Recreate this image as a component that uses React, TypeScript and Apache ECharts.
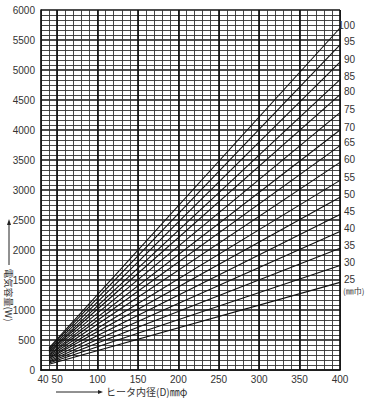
import React, { useEffect, useRef } from "react";
import * as echarts from "echarts";

const xLabels = [40, 50, 100, 150, 200, 250, 300, 350, 400];
const majorX = [50, 100, 150, 200, 250, 300, 350, 400];
const widths = [25, 30, 35, 40, 45, 50, 55, 60, 65, 70, 75, 80, 85, 90, 95, 100];
const startW = [95, 115, 135, 150, 170, 190, 205, 225, 245, 260, 280, 300, 315, 335, 355, 370];
const endW = [1460, 1740, 2030, 2310, 2590, 2880, 3160, 3460, 3740, 4000, 4290, 4590, 4840, 5130, 5420, 5700];
const xStart = 40;
const xEnd = 400;

const NARROW = "'Liberation Sans Narrow', 'Arial Narrow', 'Liberation Sans', sans-serif";
const JP = "'Noto Sans CJK JP', sans-serif";

export default function App() {
  const ref = useRef<HTMLDivElement>(null);
  useEffect(() => {
    if (!ref.current) return;
    const chart = echarts.init(ref.current, undefined, { renderer: "svg" });
    const series: any[] = widths.map((w, i) => ({
      type: "line",
      name: String(w),
      data: [
        [xStart, startW[i]],
        [xEnd, endW[i]],
      ],
      symbol: "none",
      silent: true,
      lineStyle: { color: "#111", width: 1.1 },
      endLabel: {
        show: true,
        formatter: String(w),
        distance: 15,
        align: "right",
        verticalAlign: "middle",
        offset: [0, -3],
        fontFamily: NARROW,
        fontSize: 10,
        color: "#333",
      },
      z: 5,
    }));
    series.push({
      type: "line",
      data: [],
      silent: true,
      markLine: {
        silent: true,
        symbol: "none",
        label: { show: false },
        lineStyle: { type: "solid", color: "#111", width: 1.7 },
        data: majorX.map((v) => ({ xAxis: v })),
      },
      z: 3,
    });
    chart.setOption({
      animation: false,
      grid: { left: 41, right: 31, top: 10, bottom: 35 },
      xAxis: {
        type: "value",
        min: 30,
        max: 400,
        interval: 10,
        axisLine: { show: true, lineStyle: { color: "#111", width: 1.7 } },
        axisTick: { show: false },
        axisLabel: {
          margin: 4,
          fontFamily: NARROW,
          fontSize: 10,
          color: "#333",
          formatter: (v: number) => {
            if (v === 40) return "{l|40}";
            return xLabels.indexOf(v) >= 0 ? String(v) : "";
          },
          rich: { l: { padding: [0, 12, 0, 0], fontFamily: NARROW, fontSize: 10, color: "#333" } },
        },
        splitLine: { show: true, lineStyle: { color: "#333", width: 0.9 } },
      },
      yAxis: {
        type: "value",
        min: 0,
        max: 6000,
        interval: 500,
        axisLine: { show: true, lineStyle: { color: "#111", width: 1.7 } },
        axisTick: { show: false },
        axisLabel: {
          margin: 6,
          fontFamily: NARROW,
          fontSize: 10,
          color: "#333",
          formatter: (v: number) => String(v),
        },
        splitLine: { show: true, lineStyle: { color: "#111", width: 1.7 } },
        minorTick: { show: false, splitNumber: 6 },
        minorSplitLine: { show: true, lineStyle: { color: "#333", width: 0.9 } },
      },
      series,
      graphic: [
        {
          type: "text",
          left: 343,
          top: 286,
          style: { text: "(㎜巾)", fontFamily: JP, fontSize: 8, fill: "#333" },
        },
        {
          type: "line",
          shape: { x1: 56, y1: 392, x2: 100, y2: 392 },
          style: { stroke: "#222", lineWidth: 1 },
        },
        {
          type: "polygon",
          shape: { points: [[103, 392], [98, 390], [98, 394]] },
          style: { fill: "#222" },
        },
        {
          type: "text",
          left: 106,
          top: 386,
          style: { text: "ヒータ内径(D)㎜φ", fontFamily: JP, fontSize: 10, fill: "#333" },
        },
        {
          type: "line",
          shape: { x1: 9, y1: 224, x2: 9, y2: 265 },
          style: { stroke: "#222", lineWidth: 1 },
        },
        {
          type: "polygon",
          shape: { points: [[9, 219], [7, 225], [11, 225]] },
          style: { fill: "#222" },
        },
        {
          type: "text",
          x: 9,
          y: 295,
          rotation: -Math.PI / 2,
          style: {
            text: "電気容量(W)",
            fontFamily: JP,
            fontSize: 9.5,
            fill: "#333",
            align: "center",
            verticalAlign: "middle",
          },
        },
      ],
    });
    return () => chart.dispose();
  }, []);
  return (
    <div
      ref={ref}
      style={{ position: "absolute", left: 0, top: 0, width: 371, height: 405, background: "#fff" }}
    />
  );
}
